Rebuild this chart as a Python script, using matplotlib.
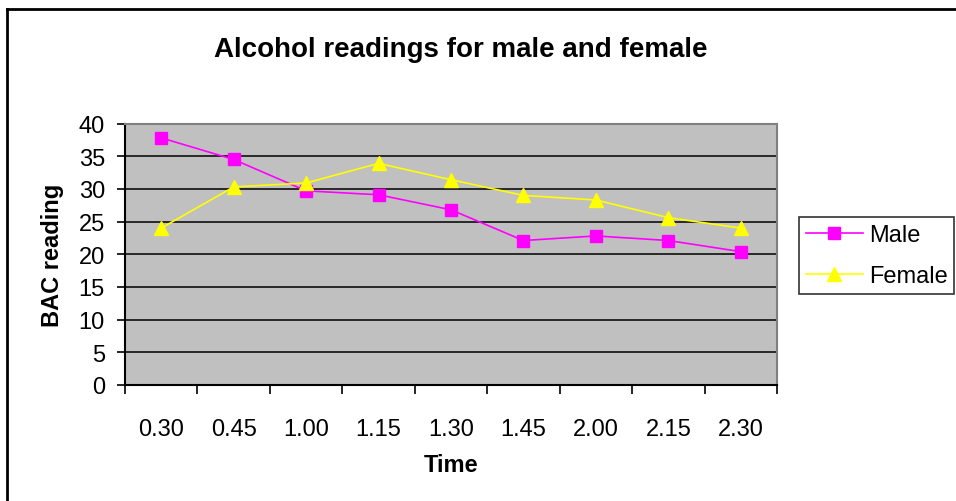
import matplotlib
matplotlib.use("Agg")
import matplotlib.pyplot as plt
from matplotlib.lines import Line2D
import numpy as np

plt.rcParams['font.family'] = ['Liberation Sans', 'DejaVu Sans']

times = ["0.30", "0.45", "1.00", "1.15", "1.30", "1.45", "2.00", "2.15", "2.30"]
male = [37.8, 34.5, 29.7, 29.1, 26.8, 22.1, 22.8, 22.1, 20.4]
female = [24.0, 30.3, 30.9, 33.9, 31.4, 29.0, 28.3, 25.6, 24.0]
y_ticks = [0, 5, 10, 15, 20, 25, 30, 35, 40]

W, H = 956, 502
fig = plt.figure(figsize=(W / 100, H / 100), dpi=100)
ax = fig.add_axes([125 / W, 1 - 386 / H, (777 - 125) / W, (386 - 124.5) / H])

x = np.arange(len(times))
ax.set_facecolor('#C0C0C0')
for v in y_ticks[1:]:
    ax.axhline(v, color='black', lw=1.1, zorder=1)

ax.plot(x, male, color='#FF00FF', lw=1.2, marker='s', markersize=9,
        markerfacecolor='#FF00FF', markeredgecolor='#FF00FF', label='Male', zorder=3)
ax.plot(x, female, color='#FFFF00', lw=1.2, marker='^', markersize=10.5,
        markerfacecolor='#FFFF00', markeredgecolor='#FFFF00', label='Female', zorder=3)

ax.set_xlim(-0.5, len(times) - 0.5)
ax.set_ylim(0, 40)
ax.set_yticks(y_ticks)
ax.set_yticklabels([str(v) for v in y_ticks], fontsize=17)
ax.set_xticks(x)
ax.set_xticklabels(times, fontsize=17)
ax.set_xticks(np.arange(-0.5, len(times)), minor=True)
ax.tick_params(axis='x', which='major', length=0, pad=24)
ax.tick_params(axis='x', which='minor', length=6.5, width=1.2, direction='out')
ax.tick_params(axis='y', length=5.5, width=1.2, direction='out', pad=9)

for side in ['top', 'right']:
    ax.spines[side].set_color('#808080')
    ax.spines[side].set_linewidth(1.5)
for side in ['left', 'bottom']:
    ax.spines[side].set_color('black')
    ax.spines[side].set_linewidth(1.5)

ax.set_xlabel('Time', fontsize=17, fontweight='bold', va='center')
ax.xaxis.set_label_coords(0.5 * (125 + 777) / W, 1 - 466 / H, transform=fig.transFigure)
ax.set_ylabel('BAC reading', fontsize=17, fontweight='bold', va='center')
ax.yaxis.set_label_coords(53 / W, 1 - 255 / H, transform=fig.transFigure)

fig.text(461 / W, 1 - 50 / H, 'Alcohol readings for male and female',
         ha='center', va='center', fontsize=20, fontweight='bold')

leg = fig.legend(loc='upper left', bbox_to_anchor=(799 / W, 1 - 218 / H),
                 frameon=True, fancybox=False, fontsize=17, handlelength=2.4,
                 borderaxespad=0, borderpad=0.3, labelspacing=0.8, handletextpad=0.25)
leg.get_frame().set_edgecolor('black')
leg.get_frame().set_linewidth(1.2)

# chart frame
fig.add_artist(Line2D([7 / W, 7 / W], [0, 1 - 10 / H], color='black', lw=2,
                      transform=fig.transFigure))
fig.add_artist(Line2D([7 / W, 1], [1 - 10 / H, 1 - 10 / H], color='black', lw=2,
                      transform=fig.transFigure))

fig.savefig('out.png', dpi=100)
